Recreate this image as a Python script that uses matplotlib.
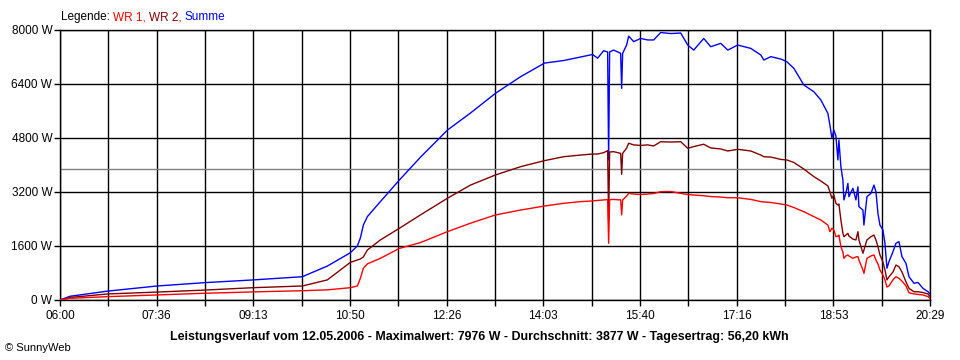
import matplotlib
matplotlib.use("Agg")
import matplotlib.pyplot as plt
import numpy as np

plt.rcParams['font.family'] = ['Liberation Sans', 'DejaVu Sans']

# minutes after 06:00
t_min = [0, 10, 48, 97, 145, 193, 242, 267, 290, 297, 300, 303, 307, 320, 339, 360, 387, 410,
         435, 460, 484, 503, 520, 532, 537, 543, 547, 548, 549, 553, 560, 561, 562, 566, 568,
         573, 580, 587, 593, 600, 610, 620, 627, 633, 643, 650, 660, 667, 677, 690, 700, 703,
         710, 720, 726, 733, 743, 753, 760, 767, 769, 771, 773, 775, 777, 778, 780, 782, 783,
         785, 787, 788, 792, 795, 797, 798, 802, 803, 806, 810, 813, 815, 817, 819, 822, 824,
         826, 828, 832, 835, 838, 841, 845, 848, 853, 857, 862, 867, 869]

wr1 = [0, 50, 100, 150, 200, 240, 275, 300, 365, 415, 640, 940, 1070, 1235, 1530, 1700, 2025,
       2275, 2520, 2665, 2785, 2865, 2915, 2935, 2950, 2965, 2975, 1680, 2975, 2980, 2965, 2520,
       2965, 3080, 3160, 3140, 3125, 3140, 3155, 3210, 3215, 3160, 3125, 3110, 3090, 3065, 3050,
       3030, 3030, 2980, 2915, 2905, 2890, 2845, 2815, 2740, 2615, 2470, 2370, 2220, 2025, 2125,
       2075, 1875, 1895, 1925, 1580, 1420, 1235, 1305, 1335, 1305, 1235, 1275, 1285, 1185, 890,
       790, 1235, 1305, 1335, 1185, 1065, 890, 740, 595, 385, 415, 595, 690, 640, 560, 415, 215,
       180, 165, 150, 100, 50]

wr2 = [0, 75, 180, 235, 295, 365, 415, 595, 1115, 1185, 1215, 1275, 1480, 1780, 2125, 2520,
       3015, 3405, 3705, 3950, 4130, 4245, 4295, 4325, 4325, 4365, 4425, 2370, 4385, 4395, 4345,
       3725, 4345, 4500, 4645, 4595, 4580, 4595, 4565, 4690, 4680, 4690, 4495, 4545, 4615, 4505,
       4475, 4415, 4465, 4415, 4295, 4245, 4235, 4165, 4150, 4075, 3880, 3655, 3525, 3380, 3210,
       3015, 3110, 2865, 2815, 2845, 2370, 1975, 1875, 1925, 1975, 1895, 1805, 1780, 2025, 1780,
       1385, 1480, 1780, 1875, 1925, 1780, 1580, 1335, 1125, 890, 595, 685, 830, 1035, 985, 830,
       535, 345, 245, 245, 220, 180, 100]

summe = [0, 110, 265, 415, 515, 595, 690, 1005, 1400, 1600, 1835, 2220, 2470, 2915, 3555, 4230,
         5035, 5540, 6125, 6615, 7020, 7095, 7200, 7275, 7165, 7385, 7350, 4150, 7350, 7405, 7310,
         6270, 7310, 7555, 7820, 7655, 7750, 7705, 7705, 7925, 7895, 7910, 7555, 7405, 7750, 7505,
         7605, 7405, 7555, 7455, 7260, 7110, 7210, 7140, 7060, 6865, 6370, 6170, 5925, 5530, 5185,
         4800, 5035, 4860, 4150, 4740, 3950, 3555, 2965, 3170, 3455, 3060, 3310, 2965, 3355, 2765,
         2665, 2220, 3060, 3160, 3405, 3210, 2570, 2220, 2075, 1680, 940, 1135, 1430, 1680, 1730,
         1285, 1085, 690, 495, 520, 345, 245, 180]

durchschnitt = 3877
x_labels = ["06:00", "07:36", "09:13", "10:50", "12:26", "14:03", "15:40", "17:16", "18:53", "20:29"]
y_ticks = [0, 1600, 3200, 4800, 6400, 8000]

fig = plt.figure(figsize=(9.6, 3.6), dpi=100)
ax = fig.add_axes([60 / 960, 60 / 360, 870 / 960, 270 / 360])

total = 869
grid_x = np.linspace(0, total, 19)
for gx in grid_x:
    ax.axvline(gx, color='black', lw=1.0, zorder=1)
for gy in y_ticks:
    ax.axhline(gy, color='black', lw=1.0, zorder=1)
ax.axhline(durchschnitt, color='#808080', lw=1.0, zorder=1)

ax.plot(t_min, summe, color='#0000FF', lw=1.0, zorder=3)
ax.plot(t_min, wr2, color='#800000', lw=1.0, zorder=3)
ax.plot(t_min, wr1, color='#FF0000', lw=1.0, zorder=4)

ax.set_xlim(0, total)
ax.set_ylim(0, 8000)
ax.set_xticks(grid_x[::2])
ax.set_xticklabels(x_labels)
ax.set_xticks(grid_x[1::2], minor=True)
ax.set_yticks(y_ticks)
ax.set_yticklabels([f"{v} W" for v in y_ticks])
ax.tick_params(axis='both', which='both', length=4, width=1, direction='out', labelsize=8.5, colors='black')
ax.tick_params(axis='x', pad=3.5)
ax.tick_params(axis='y', pad=1.5)
for s in ax.spines.values():
    s.set_linewidth(1.0)

# legend line on top, coloured word by word
fig.canvas.draw()
r = fig.canvas.get_renderer()
x0 = 61 / 960
yl = 1 - 17 / 360
for txt, col in [("Legende:", 'black'), ("WR 1,", '#FF0000'), ("WR 2,", '#800000'), ("Summe", '#0000FF')]:
    t = fig.text(x0, yl, txt, color=col, fontsize=8.5, ha='left', va='center')
    bb = t.get_window_extent(renderer=r)
    x0 = (bb.x1 + 3) / fig.bbox.width

fig.text(479 / 960, 1 - 337 / 360,
         "Leistungsverlauf vom 12.05.2006 - Maximalwert: 7976 W - Durchschnitt: 3877 W - Tagesertrag: 56,20 kWh",
         ha='center', va='center', fontsize=8.9, weight='bold')
fig.text(5 / 960, 1 - 348 / 360, "© SunnyWeb", ha='left', va='center', fontsize=8)

fig.savefig("out.png", dpi=100)
